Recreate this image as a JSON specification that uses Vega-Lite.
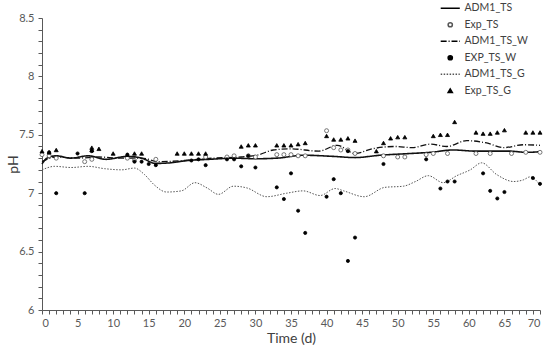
{
  "$schema": "https://vega.github.io/schema/vega-lite/v6.json",
  "width": 498,
  "height": 292,
  "autosize": {"type": "none"},
  "padding": {"left": 42, "top": 18, "right": 10, "bottom": 41},
  "background": "white",
  "config": {
    "view": {"stroke": null},
    "font": "Lato",
    "axis": {
      "grid": false,
      "domainColor": "#595959",
      "tickColor": "#595959",
      "labelColor": "#595959",
      "labelFontSize": 11,
      "titleColor": "#404040",
      "titleFontSize": 14,
      "titleFontWeight": "normal",
      "tickSize": 4
    }
  },
  "datasets": {
    "model": [
      {"s": "ADM1_TS", "t": 0, "pH": 7.25}, {"s": "ADM1_TS", "t": 0.7, "pH": 7.3}, {"s": "ADM1_TS", "t": 2, "pH": 7.32},
      {"s": "ADM1_TS", "t": 4, "pH": 7.3}, {"s": "ADM1_TS", "t": 6.5, "pH": 7.32}, {"s": "ADM1_TS", "t": 9, "pH": 7.29},
      {"s": "ADM1_TS", "t": 12, "pH": 7.315}, {"s": "ADM1_TS", "t": 14, "pH": 7.3}, {"s": "ADM1_TS", "t": 16, "pH": 7.255},
      {"s": "ADM1_TS", "t": 18, "pH": 7.26}, {"s": "ADM1_TS", "t": 20.5, "pH": 7.28}, {"s": "ADM1_TS", "t": 23.5, "pH": 7.29},
      {"s": "ADM1_TS", "t": 27, "pH": 7.3}, {"s": "ADM1_TS", "t": 30, "pH": 7.295}, {"s": "ADM1_TS", "t": 33, "pH": 7.3},
      {"s": "ADM1_TS", "t": 36.8, "pH": 7.325}, {"s": "ADM1_TS", "t": 41, "pH": 7.315}, {"s": "ADM1_TS", "t": 44, "pH": 7.305},
      {"s": "ADM1_TS", "t": 47.5, "pH": 7.325}, {"s": "ADM1_TS", "t": 51.8, "pH": 7.34}, {"s": "ADM1_TS", "t": 54.6, "pH": 7.35},
      {"s": "ADM1_TS", "t": 57.8, "pH": 7.37}, {"s": "ADM1_TS", "t": 61, "pH": 7.36}, {"s": "ADM1_TS", "t": 65.8, "pH": 7.36},
      {"s": "ADM1_TS", "t": 68, "pH": 7.35}, {"s": "ADM1_TS", "t": 70, "pH": 7.355},

      {"s": "ADM1_TS_W", "t": 0, "pH": 7.27}, {"s": "ADM1_TS_W", "t": 2, "pH": 7.31}, {"s": "ADM1_TS_W", "t": 5, "pH": 7.3},
      {"s": "ADM1_TS_W", "t": 8, "pH": 7.31}, {"s": "ADM1_TS_W", "t": 11, "pH": 7.3}, {"s": "ADM1_TS_W", "t": 14, "pH": 7.3},
      {"s": "ADM1_TS_W", "t": 16.5, "pH": 7.27}, {"s": "ADM1_TS_W", "t": 20, "pH": 7.28}, {"s": "ADM1_TS_W", "t": 24, "pH": 7.3},
      {"s": "ADM1_TS_W", "t": 28, "pH": 7.31}, {"s": "ADM1_TS_W", "t": 30.5, "pH": 7.33}, {"s": "ADM1_TS_W", "t": 32.5, "pH": 7.37},
      {"s": "ADM1_TS_W", "t": 35, "pH": 7.38}, {"s": "ADM1_TS_W", "t": 38.9, "pH": 7.36}, {"s": "ADM1_TS_W", "t": 41.5, "pH": 7.41},
      {"s": "ADM1_TS_W", "t": 44, "pH": 7.34}, {"s": "ADM1_TS_W", "t": 46.4, "pH": 7.38}, {"s": "ADM1_TS_W", "t": 49.7, "pH": 7.4},
      {"s": "ADM1_TS_W", "t": 52, "pH": 7.39}, {"s": "ADM1_TS_W", "t": 54.6, "pH": 7.42}, {"s": "ADM1_TS_W", "t": 56.9, "pH": 7.4},
      {"s": "ADM1_TS_W", "t": 59.7, "pH": 7.45}, {"s": "ADM1_TS_W", "t": 62.5, "pH": 7.43}, {"s": "ADM1_TS_W", "t": 64.9, "pH": 7.39},
      {"s": "ADM1_TS_W", "t": 67.7, "pH": 7.415}, {"s": "ADM1_TS_W", "t": 70, "pH": 7.41},

      {"s": "ADM1_TS_G", "t": 0, "pH": 7.2}, {"s": "ADM1_TS_G", "t": 1.8, "pH": 7.23}, {"s": "ADM1_TS_G", "t": 4.1, "pH": 7.22},
      {"s": "ADM1_TS_G", "t": 6.5, "pH": 7.23}, {"s": "ADM1_TS_G", "t": 8.8, "pH": 7.21}, {"s": "ADM1_TS_G", "t": 11.2, "pH": 7.2},
      {"s": "ADM1_TS_G", "t": 13, "pH": 7.215}, {"s": "ADM1_TS_G", "t": 14.4, "pH": 7.16}, {"s": "ADM1_TS_G", "t": 15.8, "pH": 7.07},
      {"s": "ADM1_TS_G", "t": 17.5, "pH": 7.01}, {"s": "ADM1_TS_G", "t": 19.6, "pH": 7.02}, {"s": "ADM1_TS_G", "t": 21.5, "pH": 7.09},
      {"s": "ADM1_TS_G", "t": 23.2, "pH": 7.045}, {"s": "ADM1_TS_G", "t": 24.8, "pH": 6.99}, {"s": "ADM1_TS_G", "t": 26.9, "pH": 7.06},
      {"s": "ADM1_TS_G", "t": 28.8, "pH": 7.045}, {"s": "ADM1_TS_G", "t": 31.6, "pH": 6.97}, {"s": "ADM1_TS_G", "t": 34.4, "pH": 7.0},
      {"s": "ADM1_TS_G", "t": 36.7, "pH": 7.02}, {"s": "ADM1_TS_G", "t": 39.1, "pH": 6.98}, {"s": "ADM1_TS_G", "t": 41.2, "pH": 7.04},
      {"s": "ADM1_TS_G", "t": 42.4, "pH": 7.02}, {"s": "ADM1_TS_G", "t": 45.3, "pH": 6.97}, {"s": "ADM1_TS_G", "t": 48.2, "pH": 7.05},
      {"s": "ADM1_TS_G", "t": 50.8, "pH": 7.06}, {"s": "ADM1_TS_G", "t": 52.5, "pH": 7.1}, {"s": "ADM1_TS_G", "t": 54.3, "pH": 7.15},
      {"s": "ADM1_TS_G", "t": 56.4, "pH": 7.09}, {"s": "ADM1_TS_G", "t": 58.3, "pH": 7.15}, {"s": "ADM1_TS_G", "t": 60.2, "pH": 7.2},
      {"s": "ADM1_TS_G", "t": 61.8, "pH": 7.26}, {"s": "ADM1_TS_G", "t": 63.9, "pH": 7.16}, {"s": "ADM1_TS_G", "t": 66.3, "pH": 7.1},
      {"s": "ADM1_TS_G", "t": 67.7, "pH": 7.115}, {"s": "ADM1_TS_G", "t": 68.6, "pH": 7.14}, {"s": "ADM1_TS_G", "t": 70, "pH": 7.07}
    ],
    "exp": [
      {"s": "Exp_TS", "t": 0, "pH": 7.33}, {"s": "Exp_TS", "t": 1, "pH": 7.32}, {"s": "Exp_TS", "t": 2, "pH": 7.3},
      {"s": "Exp_TS", "t": 6, "pH": 7.27}, {"s": "Exp_TS", "t": 7, "pH": 7.29}, {"s": "Exp_TS", "t": 12, "pH": 7.3},
      {"s": "Exp_TS", "t": 13, "pH": 7.28}, {"s": "Exp_TS", "t": 16, "pH": 7.29}, {"s": "Exp_TS", "t": 23, "pH": 7.31},
      {"s": "Exp_TS", "t": 26, "pH": 7.31}, {"s": "Exp_TS", "t": 27, "pH": 7.32}, {"s": "Exp_TS", "t": 29, "pH": 7.32},
      {"s": "Exp_TS", "t": 30, "pH": 7.31}, {"s": "Exp_TS", "t": 33, "pH": 7.33}, {"s": "Exp_TS", "t": 34, "pH": 7.33},
      {"s": "Exp_TS", "t": 35, "pH": 7.33}, {"s": "Exp_TS", "t": 36, "pH": 7.32}, {"s": "Exp_TS", "t": 37, "pH": 7.32},
      {"s": "Exp_TS", "t": 40, "pH": 7.535}, {"s": "Exp_TS", "t": 41, "pH": 7.39}, {"s": "Exp_TS", "t": 42, "pH": 7.37},
      {"s": "Exp_TS", "t": 43, "pH": 7.37}, {"s": "Exp_TS", "t": 44, "pH": 7.34}, {"s": "Exp_TS", "t": 48, "pH": 7.32},
      {"s": "Exp_TS", "t": 50, "pH": 7.31}, {"s": "Exp_TS", "t": 51, "pH": 7.31}, {"s": "Exp_TS", "t": 54, "pH": 7.33},
      {"s": "Exp_TS", "t": 55, "pH": 7.34}, {"s": "Exp_TS", "t": 57, "pH": 7.34}, {"s": "Exp_TS", "t": 61, "pH": 7.34},
      {"s": "Exp_TS", "t": 63, "pH": 7.34}, {"s": "Exp_TS", "t": 66, "pH": 7.34}, {"s": "Exp_TS", "t": 68, "pH": 7.35},
      {"s": "Exp_TS", "t": 70, "pH": 7.35},

      {"s": "EXP_TS_W", "t": 1, "pH": 7.35}, {"s": "EXP_TS_W", "t": 2, "pH": 7.0}, {"s": "EXP_TS_W", "t": 5, "pH": 7.34},
      {"s": "EXP_TS_W", "t": 6, "pH": 7.0}, {"s": "EXP_TS_W", "t": 7, "pH": 7.36}, {"s": "EXP_TS_W", "t": 12, "pH": 7.33},
      {"s": "EXP_TS_W", "t": 13, "pH": 7.27}, {"s": "EXP_TS_W", "t": 14, "pH": 7.27}, {"s": "EXP_TS_W", "t": 15, "pH": 7.25},
      {"s": "EXP_TS_W", "t": 16, "pH": 7.24}, {"s": "EXP_TS_W", "t": 21, "pH": 7.28}, {"s": "EXP_TS_W", "t": 22, "pH": 7.29},
      {"s": "EXP_TS_W", "t": 23, "pH": 7.24}, {"s": "EXP_TS_W", "t": 26, "pH": 7.29}, {"s": "EXP_TS_W", "t": 27, "pH": 7.29},
      {"s": "EXP_TS_W", "t": 28, "pH": 7.23}, {"s": "EXP_TS_W", "t": 29, "pH": 7.32}, {"s": "EXP_TS_W", "t": 30, "pH": 7.22},
      {"s": "EXP_TS_W", "t": 33, "pH": 7.05}, {"s": "EXP_TS_W", "t": 34, "pH": 6.95}, {"s": "EXP_TS_W", "t": 35, "pH": 7.17},
      {"s": "EXP_TS_W", "t": 36, "pH": 6.85}, {"s": "EXP_TS_W", "t": 37, "pH": 6.66}, {"s": "EXP_TS_W", "t": 40, "pH": 6.97},
      {"s": "EXP_TS_W", "t": 41, "pH": 7.12}, {"s": "EXP_TS_W", "t": 42, "pH": 7.0}, {"s": "EXP_TS_W", "t": 43, "pH": 6.42},
      {"s": "EXP_TS_W", "t": 43, "pH": 7.36}, {"s": "EXP_TS_W", "t": 44, "pH": 6.62}, {"s": "EXP_TS_W", "t": 48, "pH": 7.25},
      {"s": "EXP_TS_W", "t": 54, "pH": 7.29}, {"s": "EXP_TS_W", "t": 56, "pH": 7.04}, {"s": "EXP_TS_W", "t": 57, "pH": 7.1},
      {"s": "EXP_TS_W", "t": 58, "pH": 7.1}, {"s": "EXP_TS_W", "t": 62, "pH": 7.17}, {"s": "EXP_TS_W", "t": 63, "pH": 7.02},
      {"s": "EXP_TS_W", "t": 64, "pH": 6.955}, {"s": "EXP_TS_W", "t": 65, "pH": 7.01}, {"s": "EXP_TS_W", "t": 69, "pH": 7.13},
      {"s": "EXP_TS_W", "t": 70, "pH": 7.08},

      {"s": "Exp_TS_G", "t": 0, "pH": 7.36}, {"s": "Exp_TS_G", "t": 1, "pH": 7.35}, {"s": "Exp_TS_G", "t": 2, "pH": 7.37},
      {"s": "Exp_TS_G", "t": 7, "pH": 7.37}, {"s": "Exp_TS_G", "t": 7, "pH": 7.39}, {"s": "Exp_TS_G", "t": 8, "pH": 7.38},
      {"s": "Exp_TS_G", "t": 10, "pH": 7.34}, {"s": "Exp_TS_G", "t": 12, "pH": 7.33}, {"s": "Exp_TS_G", "t": 13, "pH": 7.34},
      {"s": "Exp_TS_G", "t": 14, "pH": 7.34}, {"s": "Exp_TS_G", "t": 19, "pH": 7.34}, {"s": "Exp_TS_G", "t": 20, "pH": 7.34},
      {"s": "Exp_TS_G", "t": 21, "pH": 7.34}, {"s": "Exp_TS_G", "t": 22, "pH": 7.34}, {"s": "Exp_TS_G", "t": 23, "pH": 7.34},
      {"s": "Exp_TS_G", "t": 28, "pH": 7.4}, {"s": "Exp_TS_G", "t": 29, "pH": 7.41}, {"s": "Exp_TS_G", "t": 30, "pH": 7.41},
      {"s": "Exp_TS_G", "t": 33, "pH": 7.41}, {"s": "Exp_TS_G", "t": 34, "pH": 7.41}, {"s": "Exp_TS_G", "t": 35, "pH": 7.41},
      {"s": "Exp_TS_G", "t": 36, "pH": 7.42}, {"s": "Exp_TS_G", "t": 37, "pH": 7.43}, {"s": "Exp_TS_G", "t": 40, "pH": 7.49},
      {"s": "Exp_TS_G", "t": 41, "pH": 7.46}, {"s": "Exp_TS_G", "t": 42, "pH": 7.46}, {"s": "Exp_TS_G", "t": 43, "pH": 7.47},
      {"s": "Exp_TS_G", "t": 44, "pH": 7.45}, {"s": "Exp_TS_G", "t": 47, "pH": 7.36}, {"s": "Exp_TS_G", "t": 48, "pH": 7.43},
      {"s": "Exp_TS_G", "t": 49, "pH": 7.47}, {"s": "Exp_TS_G", "t": 50, "pH": 7.48}, {"s": "Exp_TS_G", "t": 51, "pH": 7.48},
      {"s": "Exp_TS_G", "t": 55, "pH": 7.49}, {"s": "Exp_TS_G", "t": 56, "pH": 7.5}, {"s": "Exp_TS_G", "t": 57, "pH": 7.5},
      {"s": "Exp_TS_G", "t": 58, "pH": 7.61}, {"s": "Exp_TS_G", "t": 61, "pH": 7.52}, {"s": "Exp_TS_G", "t": 62, "pH": 7.51},
      {"s": "Exp_TS_G", "t": 63, "pH": 7.51}, {"s": "Exp_TS_G", "t": 64, "pH": 7.52}, {"s": "Exp_TS_G", "t": 65, "pH": 7.54},
      {"s": "Exp_TS_G", "t": 68, "pH": 7.52}, {"s": "Exp_TS_G", "t": 69, "pH": 7.52}, {"s": "Exp_TS_G", "t": 70, "pH": 7.52}
    ]
  },
  "encoding": {
    "x": {
      "field": "t", "type": "quantitative",
      "scale": {"domain": [0, 70], "nice": false},
      "axis": {
        "title": "Time (d)",
        "values": [0,1,2,3,4,5,6,7,8,9,10,11,12,13,14,15,16,17,18,19,20,21,22,23,24,25,26,27,28,29,30,31,32,33,34,35,36,37,38,39,40,41,42,43,44,45,46,47,48,49,50,51,52,53,54,55,56,57,58,59,60,61,62,63,64,65,66,67,68,69,70],
        "labelExpr": "datum.value % 5 == 0 ? datum.label : ''",
        "labelPadding": 3,
        "titleY": 28,
        "titleBaseline": "middle"
      }
    },
    "y": {
      "field": "pH", "type": "quantitative",
      "scale": {"domain": [6, 8.5], "nice": false, "zero": false},
      "axis": {
        "title": "pH",
        "values": [6,6.1,6.2,6.3,6.4,6.5,6.6,6.7,6.8,6.9,7,7.1,7.2,7.3,7.4,7.5,7.6,7.7,7.8,7.9,8,8.1,8.2,8.3,8.4,8.5],
        "format": ".1~f",
        "labelExpr": "round(datum.value*10) % 5 == 0 ? datum.label : ''",
        "labelPadding": 4,
        "titleX": -29,
        "titleY": 146,
        "titleAngle": -90,
        "titleAlign": "center",
        "titleBaseline": "middle"
      }
    }
  },
  "layer": [
    {
      "data": {"name": "model"},
      "mark": {"type": "line", "interpolate": "monotone"},
      "encoding": {
        "detail": {"field": "s"},
        "stroke": {
          "condition": {"test": "datum.s == 'ADM1_TS_G'", "value": "#555555"},
          "value": "#111111"
        },
        "strokeDash": {
          "field": "s", "type": "nominal", "legend": null,
          "scale": {"domain": ["ADM1_TS", "ADM1_TS_W", "ADM1_TS_G"], "range": [[1, 0], [6, 2, 1, 2], [1.5, 1.5]]}
        },
        "strokeWidth": {
          "field": "s", "type": "nominal", "legend": null,
          "scale": {"domain": ["ADM1_TS", "ADM1_TS_W", "ADM1_TS_G"], "range": [1.6, 1, 1.3]}
        }
      }
    },
    {
      "data": {"name": "exp"},
      "mark": {
        "type": "point", "opacity": 1,
        "fill": {"expr": "(datum.s || datum.value) == 'Exp_TS' ? '#ffffff' : (indexof(['ADM1_TS','ADM1_TS_W','ADM1_TS_G'], datum.s || datum.value) >= 0 ? 'transparent' : '#000000')"},
        "stroke": {"expr": "indexof(['Exp_TS','ADM1_TS_G'], datum.s || datum.value) >= 0 ? '#555555' : '#000000'"},
        "strokeWidth": {"expr": "(datum.s || datum.value) == 'ADM1_TS' ? 1.6 : ((datum.s || datum.value) == 'ADM1_TS_G' ? 1.3 : ((datum.s || datum.value) == 'ADM1_TS_W' ? 1 : 0.8))"},
        "size": {"expr": "datum.s == 'EXP_TS_W' ? 10 : 16"}
      },
      "encoding": {
        "shape": {
          "field": "s", "type": "nominal",
          "scale": {"domain": ["ADM1_TS", "Exp_TS", "ADM1_TS_W", "EXP_TS_W", "ADM1_TS_G", "Exp_TS_G"],
                    "range": [
                      "M-4.5,0H4.5",
                      "circle",
                      "M-4.5,0H-1.7M-0.8,0H-0.3M0.6,0H3.4M4.2,0H4.5",
                      "circle",
                      "M-4.5,0H-3.8M-3.1,0H-2.4M-1.7,0H-1M-0.3,0H0.4M1.1,0H1.8M2.5,0H3.2M3.9,0H4.5",
                      "triangle-up"
                    ]},
          "legend": {
            "title": null,
            "orient": "none",
            "legendX": 403,
            "legendY": -15,
            "labelFontSize": 10.5,
            "labelColor": "#404040",
            "symbolSize": 18,
            "rowPadding": 5.5,
            "labelOffset": 9,
            "symbolOpacity": 1
          }
        }
      }
    }
  ]
}
